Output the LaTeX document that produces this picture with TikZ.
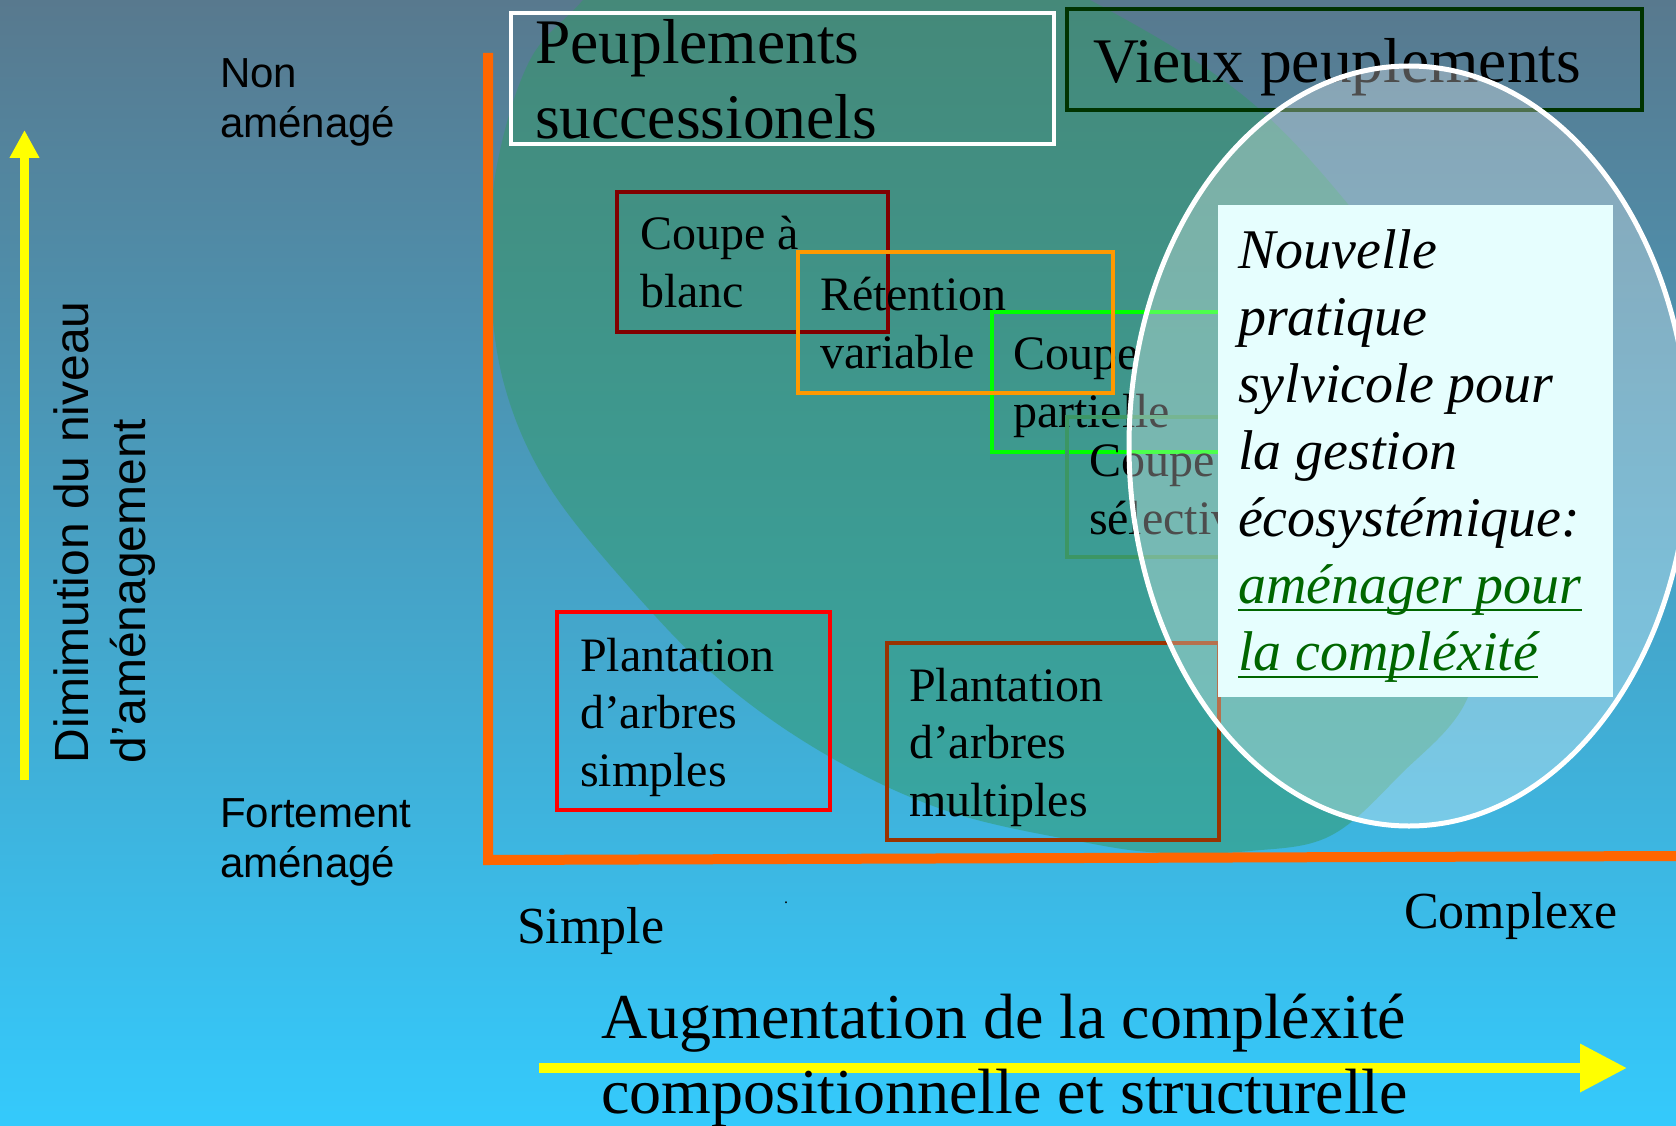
\documentclass[tikz,border=0pt]{standalone}
\usepackage{fontspec}
\setmainfont{Liberation Serif}
\newfontfamily\sansf{Liberation Sans}
\usetikzlibrary{arrows.meta}
\definecolor{bgtop}{RGB}{88,121,142}
\definecolor{bgbot}{RGB}{52,202,252}
\definecolor{blobgreen}{RGB}{51,153,102}
\definecolor{axisorange}{RGB}{255,102,0}
\definecolor{vieuxgreen}{RGB}{0,51,0}
\definecolor{blancred}{RGB}{128,0,0}
\definecolor{retorange}{RGB}{255,153,0}
\definecolor{partgreen}{RGB}{0,255,0}
\definecolor{selgreen}{RGB}{60,150,100}
\definecolor{simpred}{RGB}{255,0,0}
\definecolor{multbrown}{RGB}{153,51,0}
\definecolor{notebg}{RGB}{230,254,254}
\definecolor{notegreen}{RGB}{0,102,0}
\definecolor{arrowyellow}{RGB}{255,255,0}
\newcommand\myul[1]{\setbox0\hbox{#1}\rlap{\rule[-8pt]{\wd0}{2.5pt}}\box0}
\begin{document}
\begin{tikzpicture}[x=1pt,y=-1pt,
  boxframe/.style={draw=#1, line width=4.5pt, inner sep=0pt, outer sep=0pt, anchor=north west},
  lbl/.style={anchor=base west, align=left, inner sep=0pt, outer sep=0pt, font=\fontsize{48}{58}\selectfont},
  biglbl/.style={lbl, font=\fontsize{63.5}{75}\selectfont},
  sanslbl/.style={lbl, font=\sansf\fontsize{42}{50}\selectfont},
  rotlbl/.style={anchor=base west, inner sep=0pt, outer sep=0pt, rotate=90, font=\sansf\fontsize{48}{57}\selectfont},
  axislbl/.style={lbl, font=\fontsize{52}{60}\selectfont},
  yarrow/.style={draw=arrowyellow, line width=#1}
]
\useasboundingbox (0,0) rectangle (1676,1126);
\begin{scope}
\clip (0,0) rectangle (1676,1126);
% background
\shade[top color=bgtop, bottom color=bgbot] (0,0) rectangle (1676,1126);
% green region
\fill[blobgreen, fill opacity=0.5] plot[smooth cycle, tension=0.6] coordinates {
  (640,-70) (583,0) (530,60) (497,165) (490,270) (503,380) (545,480) (623,580)
  (720,680) (830,757) (950,812) (1088,843) (1165,853) (1250,851) (1330,836)
  (1400,775) (1468,697) (1482,580) (1468,440) (1420,310) (1347,203) (1240,93)
  (1090,0) (900,-90)};
% axes
\coordinate (axtop) at (488,53);
\coordinate (axcorner) at (488,860);
\coordinate (axright) at (1676,856);
\draw[axisorange, line width=10pt, line join=miter] (axtop) -- (axcorner) -- (axright);

% boxes and labels (anchor = baseline of last line)
\node[boxframe=white, minimum width=543, minimum height=131] (succbox) at (511,13) {};
\node[biglbl] (succtxt) at (535,139) {Peuplements\\successionels};

\node[boxframe=vieuxgreen, minimum width=575, minimum height=101] (vieuxbox) at (1067,9) {};
\node[biglbl] (vieuxtxt) at (1093,83) {Vieux peuplements};

\node[boxframe=blancred, minimum width=271, minimum height=140] (blancbox) at (617,192) {};
\node[lbl] (blanctxt) at (640,307) {Coupe à\\blanc};

\node[boxframe=partgreen, minimum width=258, minimum height=140] (partbox) at (992,312) {};
\node[lbl] (parttxt) at (1013,427) {Coupe\\partielle};

\node[boxframe=retorange, minimum width=315, minimum height=141] (retbox) at (798,252) {};
\node[lbl] (rettxt) at (820,368) {Rétention\\variable};

\node[boxframe=selgreen, minimum width=183, minimum height=140] (selbox) at (1067,417) {};
\node[lbl] (seltxt) at (1089,534) {Coupe\\sélective};

\node[boxframe=simpred, minimum width=273, minimum height=198] (simpbox) at (557,612) {};
\node[lbl, font=\fontsize{48}{57.5}\selectfont] (simptxt) at (580,786) {Plantation\\d’arbres\\simples};

\node[boxframe=multbrown, minimum width=332, minimum height=197] (multbox) at (887,643) {};
\node[lbl, font=\fontsize{48}{57.5}\selectfont] (multtxt) at (909,816) {Plantation\\d’arbres\\multiples};

% oval
\path[fill=white, fill opacity=0.3, draw=white, line width=5pt]
  (1409,446) ellipse [x radius=280, y radius=380];
\node[fill=notebg, inner sep=0pt, outer sep=0pt, anchor=north west,
  minimum width=395, minimum height=492] (notebox) at (1218,205) {};
\node[lbl, font=\itshape\fontsize{56}{67}\selectfont] (notetxt) at (1238,670)
  {Nouvelle\\pratique\\sylvicole pour\\la gestion\\écosystémique:\\
   {\color{notegreen}\myul{aménager pour}}\\{\color{notegreen}\myul{la compléxité}}};
\end{scope}

% vertical axis labels
\coordinate (yarrbot) at (24.5,780);
\coordinate (yarrtop) at (24.5,130);
\draw[yarrow=9pt, -{Triangle[length=28pt, width=28pt]}] (yarrbot) -- (yarrtop);
\node[rotlbl] (rot1) at (88,763) {Dimimution du niveau};
\node[rotlbl] (rot2) at (145,763) {d’aménagement};
\node[sanslbl] (nonam) at (220,138) {Non\\aménagé};
\node[sanslbl] (fortam) at (220,877) {Fortement\\aménagé};

% horizontal axis labels
\node[axislbl] (simple) at (517,943) {Simple};
\node[axislbl] (complexe) at (1404,928) {Complexe};
\node[lbl, font=\fontsize{16}{18}\selectfont] (dot) at (784,903) {.};
\coordinate (xarrleft) at (539,1068);
\coordinate (xarrright) at (1627,1068);
\draw[yarrow=10pt, -{Triangle[length=47pt, width=46pt]}] (xarrleft) -- (xarrright);
\node[lbl, font=\fontsize{64}{75}\selectfont] (augtxt) at (601,1113)
  {Augmentation de la compléxité\\compositionnelle et structurelle};
\end{tikzpicture}
\end{document}
